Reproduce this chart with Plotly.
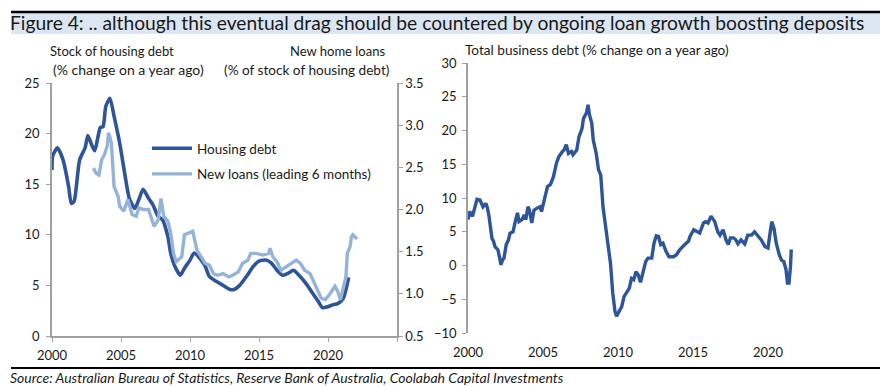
import plotly.graph_objects as go

# ---------------- data ----------------
housing_x = [2000.0, 2000.05, 2000.4, 2000.8, 2001.2, 2001.4, 2001.6, 2002.0, 2002.4, 2002.6, 2002.9, 2003.1,
             2003.5, 2003.7, 2003.9, 2004.2, 2004.5, 2004.9, 2005.3, 2005.6, 2006.0, 2006.3, 2006.6, 2007.0,
             2007.3, 2007.7, 2008.0, 2008.4, 2008.6, 2008.9, 2009.3, 2009.6, 2010.0, 2010.3, 2010.7, 2011.1,
             2011.4, 2011.9, 2012.4, 2012.9, 2013.2, 2013.6, 2014.1, 2014.6, 2015.0, 2015.5, 2015.9, 2016.3,
             2016.7, 2017.1, 2017.5, 2017.9, 2018.4, 2018.9, 2019.3, 2019.6, 2020.0, 2020.4, 2020.7, 2021.1,
             2021.3, 2021.5]
housing_y = [16.4, 17.8, 18.6, 17.4, 14.8, 13.1, 13.3, 17.4, 18.6, 19.8, 18.8, 18.3,
             20.6, 20.7, 22.7, 23.5, 21.7, 19.1, 15.8, 13.6, 12.6, 13.5, 14.5, 13.6,
             13.0, 11.8, 11.5, 9.8, 8.2, 6.9, 6.0, 6.7, 7.5, 8.2, 7.7, 6.9,
             5.9, 5.4, 5.0, 4.6, 4.6, 5.0, 5.9, 6.9, 7.4, 7.5, 7.2, 6.5,
             6.0, 6.2, 6.5, 6.0, 5.2, 4.2, 3.4, 2.8, 2.9, 3.1, 3.2, 3.7,
             4.6, 5.8]

loans_x = [2003.0, 2003.2, 2003.4, 2003.6, 2003.8, 2004.0, 2004.1, 2004.3, 2004.5, 2004.8, 2004.9, 2005.2,
           2005.5, 2005.8, 2006.1, 2006.3, 2006.6, 2007.0, 2007.2, 2007.4, 2007.7, 2007.9, 2008.1, 2008.4,
           2008.6, 2008.8, 2009.0, 2009.4, 2009.6, 2009.9, 2010.2, 2010.5, 2010.8, 2011.1, 2011.4, 2011.7,
           2012.0, 2012.4, 2012.8, 2013.1, 2013.5, 2013.8, 2014.2, 2014.4, 2014.8, 2015.3, 2015.7, 2015.8,
           2016.0, 2016.3, 2016.6, 2017.0, 2017.4, 2017.7, 2018.0, 2018.3, 2018.7, 2019.0, 2019.3, 2019.5,
           2019.8, 2020.1, 2020.5, 2020.7, 2020.9, 2021.1, 2021.3, 2021.4, 2021.6, 2021.7, 2021.8, 2022.1]
loans_y = [2.49, 2.43, 2.41, 2.59, 2.65, 2.75, 2.91, 2.79, 2.27, 2.15, 2.04, 1.98,
           2.12, 1.94, 1.92, 2.02, 2.00, 2.00, 1.90, 1.80, 1.88, 2.13, 1.92, 1.86,
           1.72, 1.48, 1.38, 1.44, 1.70, 1.72, 1.74, 1.52, 1.44, 1.36, 1.34, 1.24,
           1.22, 1.24, 1.20, 1.22, 1.26, 1.36, 1.40, 1.48, 1.48, 1.46, 1.48, 1.54,
           1.44, 1.38, 1.28, 1.32, 1.36, 1.40, 1.36, 1.28, 1.24, 1.13, 1.01, 0.95,
           0.93, 0.99, 1.09, 1.03, 0.93, 1.09, 1.20, 1.48, 1.56, 1.68, 1.70, 1.65]

business_x = [2000.0, 2000.1, 2000.3, 2000.4, 2000.6, 2000.8, 2001.0, 2001.2, 2001.3, 2001.4, 2001.6, 2001.7,
              2001.8, 2002.0, 2002.1, 2002.2, 2002.3, 2002.4, 2002.55, 2002.7, 2002.8, 2003.0, 2003.15, 2003.3,
              2003.4, 2003.6, 2003.75, 2003.85, 2004.0, 2004.1, 2004.25, 2004.4, 2004.6, 2004.8, 2004.9, 2005.1,
              2005.3, 2005.5, 2005.7, 2005.9, 2006.05, 2006.3, 2006.4, 2006.55, 2006.7, 2006.9, 2007.0, 2007.25,
              2007.4, 2007.6, 2007.7, 2007.9, 2008.0, 2008.1, 2008.25, 2008.35, 2008.55, 2008.7, 2008.85, 2009.0,
              2009.25, 2009.5, 2009.65, 2009.8, 2009.9, 2010.1, 2010.25, 2010.4, 2010.6, 2010.75, 2010.9, 2011.05,
              2011.2, 2011.35, 2011.5, 2011.7, 2011.85, 2012.0, 2012.25, 2012.4, 2012.55, 2012.7, 2012.85, 2013.0,
              2013.2, 2013.4, 2013.7, 2013.9, 2014.1, 2014.45, 2014.7, 2014.8, 2015.05, 2015.3, 2015.45, 2015.7,
              2015.85, 2016.0, 2016.2, 2016.45, 2016.65, 2016.8, 2017.0, 2017.2, 2017.35, 2017.5, 2017.7, 2017.85,
              2018.0, 2018.2, 2018.45, 2018.65, 2018.9, 2019.1, 2019.35, 2019.55, 2019.8, 2020.0, 2020.15, 2020.25,
              2020.4, 2020.55, 2020.75, 2020.9, 2021.05, 2021.2, 2021.3, 2021.4, 2021.5, 2021.55]
business_y = [6.8, 8.0, 7.3, 8.3, 9.8, 9.7, 8.7, 9.2, 8.5, 7.3, 4.0, 3.6,
              2.8, 2.3, 0.8, 0.1, 0.8, 1.1, 3.1, 3.8, 4.8, 5.0, 6.5, 7.8,
              6.5, 6.8, 7.5, 6.8, 8.7, 8.2, 6.3, 8.2, 8.5, 8.7, 8.0, 9.7,
              11.7, 12.0, 13.2, 15.2, 16.1, 16.9, 17.1, 17.9, 16.6, 16.9, 16.4, 17.1,
              19.1, 20.3, 21.8, 22.6, 23.8, 22.3, 21.1, 18.6, 16.6, 14.2, 13.4, 8.7,
              4.8, 0.3, -4.1, -6.8, -7.5, -6.8, -6.1, -4.6, -3.9, -3.4, -1.9, -2.1,
              -0.9, -1.4, -2.5, -0.4, 0.6, 1.1, 1.1, 3.3, 4.4, 4.3, 3.1, 3.3,
              2.1, 1.3, 1.3, 1.6, 2.3, 3.1, 3.6, 4.3, 5.3, 5.0, 4.8, 6.3,
              6.5, 6.3, 7.3, 6.5, 5.0, 4.5, 5.3, 3.8, 3.1, 4.1, 4.1, 3.8,
              3.2, 3.8, 3.2, 4.5, 4.5, 5.0, 4.3, 3.8, 2.8, 2.6, 5.0, 6.5,
              5.5, 3.3, 1.6, 0.8, 0.6, -0.6, -2.6, -2.6, -0.1, 2.4]

x_tickvals = [2000, 2005, 2010, 2015, 2020, 2025]
x_ticktext = ["2000", "2005", "2010", "2015", "2020", ""]
left_yticks = [0, 5, 10, 15, 20, 25]
right_yticks = [0.5, 1.0, 1.5, 2.0, 2.5, 3.0, 3.5]
biz_yticks = [-10, -5, 0, 5, 10, 15, 20, 25, 30]

title_text = "Figure 4: .. although this eventual drag should be countered by ongoing loan growth boosting deposits"
source_text = "Source: Australian Bureau of Statistics, Reserve Bank of Australia, Coolabah Capital Investments"

# ---------------- layout geometry ----------------
W, H = 891, 387
OFF = 8  # page body margin
def px(x):
    return (x - OFF) / W
def py(y):
    return 1 - (y - OFF) / H

DARK = "#2E5597"
LIGHT = "#95B3D7"
AXIS = "#A0A0A0"
FONT = "Lato"
TXT = "#1a1a1a"

fig = go.Figure()

fig.add_trace(go.Scatter(x=housing_x, y=housing_y, mode="lines", name="Housing debt",
                         line=dict(color=DARK, width=3.6, shape="spline", smoothing=0.6),
                         xaxis="x", yaxis="y", legendgroup="a"))
fig.add_trace(go.Scatter(x=loans_x, y=loans_y, mode="lines", name="New loans (leading 6 months)",
                         line=dict(color=LIGHT, width=3.4),
                         xaxis="x", yaxis="y3", legendgroup="b"))
fig.add_trace(go.Scatter(x=business_x, y=business_y, mode="lines", name="Business debt",
                         line=dict(color=DARK, width=3.4),
                         xaxis="x2", yaxis="y2", showlegend=False))

tickfont = dict(family=FONT, size=13, color=TXT)

y1_dom = [py(336), py(83)]
y2_dom = [py(333), py(63)]
zero_pos = y2_dom[0] + (0 - (-10)) / 40 * (y2_dom[1] - y2_dom[0])

common = dict(showgrid=False, zeroline=False, automargin=False)

fig.update_layout(
    width=W, height=H,
    margin=dict(l=0, r=0, t=0, b=0, autoexpand=False),
    paper_bgcolor="white", plot_bgcolor="white",
    font=dict(family=FONT, size=13, color=TXT),
    showlegend=True,
    legend=dict(x=px(147), y=py(133), xanchor="left", yanchor="top",
                font=dict(family=FONT, size=13.5, color=TXT),
                bgcolor="rgba(0,0,0,0)", tracegroupgap=5, itemwidth=40,
                traceorder="grouped"),
    xaxis=dict(domain=[px(52), px(397)], range=[2000, 2025], anchor="y",
               tickvals=x_tickvals, ticktext=x_ticktext, ticks="outside", ticklen=4,
               tickcolor=AXIS, showline=True, linecolor=AXIS, linewidth=1.5,
               ticklabelstandoff=3, tickfont=tickfont, **common),
    yaxis=dict(domain=y1_dom, range=[0, 25], anchor="x",
               tickvals=left_yticks, ticks="outside", ticklen=4, tickcolor=AXIS,
               showline=True, linecolor=AXIS, linewidth=1.5, ticklabelstandoff=4,
               tickfont=tickfont, **common),
    yaxis3=dict(range=[0.5, 3.5], overlaying="y", side="right", anchor="x",
                tickvals=right_yticks, tickformat=".1f", ticks="outside", ticklen=4,
                tickcolor=AXIS, showline=True, linecolor=AXIS, linewidth=1.5,
                tickfont=tickfont, **common),
    xaxis2=dict(domain=[px(468), px(843)], range=[2000, 2025], anchor="y2",
                tickvals=x_tickvals, ticktext=x_ticktext, ticks="", showline=False,
                ticklabelstandoff=10, tickfont=tickfont, **common),
    xaxis3=dict(domain=[px(468), px(843)], range=[2000, 2025], overlaying="x2",
                anchor="free", position=zero_pos,
                tickvals=x_tickvals, ticks="outside", ticklen=4, tickcolor=AXIS,
                showticklabels=False, showline=True, linecolor=AXIS, linewidth=1.5,
                **common),
    yaxis2=dict(domain=y2_dom, range=[-10, 30], anchor="x2",
                tickvals=biz_yticks, ticks="outside", ticklen=4, tickcolor=AXIS,
                showline=True, linecolor=AXIS, linewidth=1.5, ticklabelstandoff=3,
                tickfont=tickfont, **common),
)

# banner and rules
fig.add_shape(type="rect", xref="paper", yref="paper", x0=px(11), x1=px(880), y0=py(34), y1=py(13),
              fillcolor="#DCE6F2", line=dict(width=0), layer="below")
fig.add_shape(type="line", xref="paper", yref="paper", x0=px(11), x1=px(880), y0=py(12), y1=py(12),
              line=dict(color="black", width=2.5))
fig.add_shape(type="line", xref="paper", yref="paper", x0=px(11), x1=px(880), y0=py(368), y1=py(368),
              line=dict(color="black", width=2))

def txt(x, y, s, size=13, anchor="left", italic=False):
    fig.add_annotation(xref="paper", yref="paper", x=px(x), y=py(y), text=s, showarrow=False,
                       xanchor=anchor, yanchor="middle",
                       font=dict(family=FONT, size=size, color=TXT,
                                 style="italic" if italic else "normal"))

txt(8, 23, title_text, size=19.2)
txt(48, 51, "Stock of housing debt", size=13)
txt(51, 70, "(% change on a year ago)", size=14)
txt(387, 51, "New home loans", size=13, anchor="right")
txt(392, 70, "(% of stock of housing debt)", size=13.6, anchor="right")
txt(463, 50, "Total business debt (% change on a year ago)", size=13.6)
txt(8, 377, source_text, size=14, italic=True)

fig.write_html("out.html")
